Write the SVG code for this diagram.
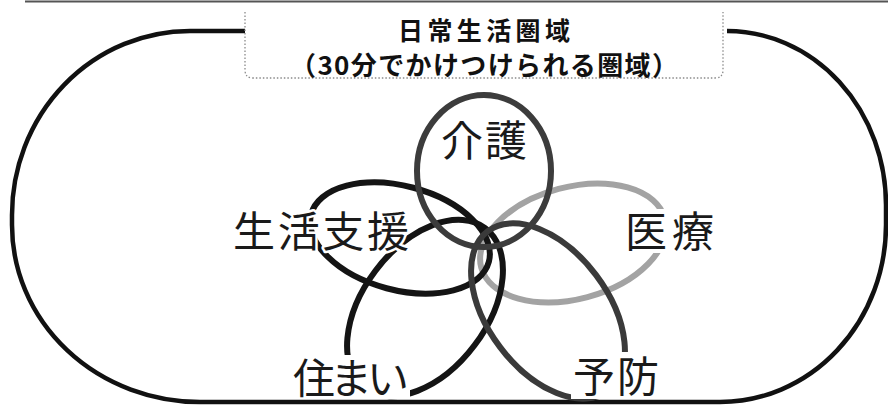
<svg xmlns="http://www.w3.org/2000/svg" width="888" height="407" viewBox="0 0 888 407">
  <style>
    .outer { fill: none; stroke: #111; stroke-width: 4.5; }
    .frame { fill: none; stroke: #8a8a8a; stroke-width: 1.3; stroke-dasharray: 1.5 2; }
    .ring { fill: none; stroke-width: 6; }
    .title { font-family: "Noto Sans CJK JP", "Noto Sans", sans-serif; font-weight: 700; fill: #111; }
    .label { font-family: "Noto Sans CJK JP", "Noto Sans", sans-serif; font-size: 42px; fill: #1a1a1a; }
    .halo { stroke: #fff; stroke-width: 5; paint-order: stroke fill; stroke-linejoin: round; }
    .bg { fill: #fff; }
  </style>

  <!-- scan edge at the top -->
  <line x1="25" y1="1.5" x2="888" y2="1.5" stroke="#555" stroke-width="2"/>

  <!-- outer region (stadium) -->
  <g id="area">
    <path class="outer" d="M245,31 H190 A178,184 0 0 0 12,215 V225 A188,177 0 0 0 200,402 H720 A166,177 0 0 0 886,225 V205 A159,174 0 0 0 727,31"/>
  </g>

  <!-- title box -->
  <g id="title">
    <path class="frame" d="M245,12 V70 Q245,78 253,78 H715 Q723,78 723,70 V12"/>
    <text class="title" x="398" y="40" font-size="25" textLength="172" lengthAdjust="spacing">日常生活圏域</text>
    <text class="title" x="290" y="75" font-size="26" textLength="388" lengthAdjust="spacing">（30分でかけつけられる圏域）</text>
  </g>

  <!-- rings -->
  <g id="connectors">
    <ellipse id="ring-iryo" class="ring" cx="573" cy="243" rx="95" ry="56" transform="rotate(-15 573 243)" stroke="#a3a3a3" stroke-width="7"/>
    <ellipse id="ring-seikatsu" class="ring" cx="400" cy="238" rx="92" ry="52" transform="rotate(15 400 238)" stroke="#141414"/>
    <ellipse id="ring-sumai" class="ring" cx="425" cy="308" rx="100" ry="62" transform="rotate(-53 425 308)" stroke="#141414"/>
    <ellipse id="ring-yobo" class="ring" cx="548" cy="311" rx="100" ry="60" transform="rotate(53 548 311)" stroke="#3a3a3a" stroke-width="6.5"/>
    <ellipse id="ring-kaigo" class="ring" cx="484" cy="171" rx="67" ry="76" stroke="#3c3c3c" stroke-width="6.5"/>
  </g>

  <!-- labels -->
  <g id="kaigo">
    <text class="label" x="441" y="156" font-size="32" textLength="86" lengthAdjust="spacing">介護</text>
  </g>
  <g id="seikatsu-shien">
    <text class="label halo" x="233" y="247" textLength="176" lengthAdjust="spacing">生活支援</text>
  </g>
  <g id="iryo">
    <rect class="bg" x="624" y="209" width="91" height="44"/>
    <text class="label" x="625" y="247" textLength="89" lengthAdjust="spacing" fill="#4a4a4a">医療</text>
  </g>
  <g id="sumai">
    <rect class="bg" x="291" y="355" width="119" height="44"/>
    <text class="label" x="293" y="394" textLength="116" lengthAdjust="spacing">住まい</text>
  </g>
  <g id="yobo">
    <rect class="bg" x="571" y="352" width="90" height="47"/>
    <text class="label" x="573" y="392" textLength="86" lengthAdjust="spacing">予防</text>
  </g>
</svg>
